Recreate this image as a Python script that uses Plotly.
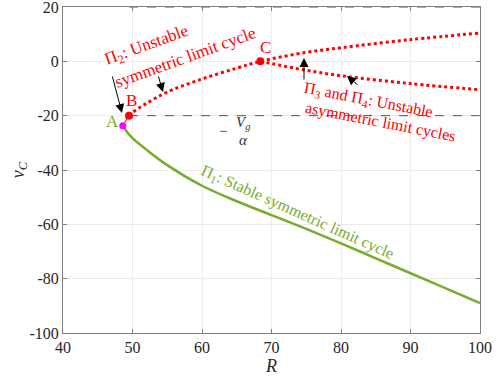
import plotly.graph_objects as go

# ---- data ----
R_stable = [48.6, 49, 50, 52, 55, 60, 65, 70, 75, 80, 85, 90, 95, 100]
v_stable = [-23.5, -25.3, -28.3, -32.5, -38.2, -45.8, -51.5, -56.6, -61.7, -67, -72.5, -78, -83.5, -89]

R_sym_unstable = [49.5, 50, 52, 55, 60, 65, 68.4, 75, 80, 90, 100]
v_sym_unstable = [-20, -18.8, -15.5, -11.3, -6.5, -2.5, 0, 3.3, 5.0, 8.0, 10.4]

R_asym = [68.4, 75, 80, 90, 100]
v_asym = [0, -3.3, -5.3, -8.2, -10.5]

R_ref = [49.5, 100]
v_ref_low = [-20, -20]
v_ref_high = [20, 20]

pt_A = (48.6, -23.7)
pt_B = (49.5, -20)
pt_C = (68.4, 0)

xticks = [40, 50, 60, 70, 80, 90, 100]
yticks = [-100, -80, -60, -40, -20, 0, 20]
ytick_labels = ["-100", "-80", "-60", "-40", "-20", "0", "20"]

GREEN = "#77ac30"
RED = "#ff0000"
FONT = "Liberation Serif"

fig = go.Figure()

# dashed reference lines
for vv in (v_ref_low, v_ref_high):
    fig.add_trace(go.Scatter(x=R_ref, y=vv, mode="lines",
                             line=dict(color="#555555", width=1, dash="dash"),
                             hoverinfo="skip", showlegend=False, cliponaxis=False))

# thin line A-B
fig.add_trace(go.Scatter(x=[pt_A[0], pt_B[0]], y=[pt_A[1], pt_B[1]], mode="lines",
                         line=dict(color=RED, width=1), showlegend=False))

# stable branch
fig.add_trace(go.Scatter(x=R_stable, y=v_stable, mode="lines",
                         line=dict(color=GREEN, width=2.5, shape="spline", smoothing=1.0),
                         showlegend=False))

# unstable symmetric
fig.add_trace(go.Scatter(x=R_sym_unstable, y=v_sym_unstable, mode="lines",
                         line=dict(color=RED, width=3, dash="dot", shape="spline"),
                         showlegend=False))
# unstable asymmetric
fig.add_trace(go.Scatter(x=R_asym, y=v_asym, mode="lines",
                         line=dict(color=RED, width=3, dash="dot", shape="spline"),
                         showlegend=False))

# points
fig.add_trace(go.Scatter(x=[pt_A[0]], y=[pt_A[1]], mode="markers",
                         marker=dict(color="#ff00ff", size=7), showlegend=False))
fig.add_trace(go.Scatter(x=[pt_B[0], pt_C[0]], y=[pt_B[1], pt_C[1]], mode="markers",
                         marker=dict(color=RED, size=8), showlegend=False))

# pixel helpers (plot area 63..480 x 7..333)
def px2data(px, py):
    return 40 + (px - 63) / (417 / 60), 20 - (py - 7) / (326 / 120)

def text_at(px, py, text, color, size, angle=0):
    x, y = px2data(px, py)
    fig.add_annotation(x=x, y=y, text=text, showarrow=False, textangle=angle,
                       font=dict(family=FONT, size=size, color=color),
                       xanchor="center", yanchor="middle")

def arrow(hx, hy, tx, ty):
    x, y = px2data(hx, hy)
    fig.add_annotation(x=x, y=y, ax=tx - hx, ay=ty - hy, text="", showarrow=True,
                       arrowhead=2, arrowsize=1.8, arrowwidth=1, arrowcolor="#000000")

text_at(112, 121, "A", GREEN, 17)
text_at(131, 100, "B", RED, 17)
text_at(265, 47, "C", RED, 17)

text_at(147, 46, "Π<sub>2</sub>: Unstable", RED, 17, -20)
text_at(185, 57, "symmetric limit cycle", RED, 17, -20)

text_at(368, 100, "Π<sub>3</sub> and Π<sub>4</sub>: Unstable", RED, 16, 11)
text_at(380, 122, "asymmetric limit cycles", RED, 16, 11)

text_at(297, 212, "Π<sub>1</sub>: Stable symmetric limit cycle", GREEN, 16, 24)

text_at(223, 131, "−", "#333333", 15)
text_at(243, 123, "<i>V<sub>g</sub></i>", "#333333", 15)
text_at(243, 140, "<i>α</i>", "#333333", 15)

arrow(122, 113, 112, 75)
arrow(163, 92, 158, 75)
arrow(304, 58, 304, 81)
arrow(347, 76, 359, 86)

axis_common = dict(showline=True, linecolor="#808080", linewidth=1, mirror="ticks",
                   ticks="inside", ticklen=4, tickcolor="#808080",
                   showgrid=True, gridcolor="#ebebeb", gridwidth=1, zeroline=False,
                   ticklabeloverflow="allow", automargin=False,
                   tickfont=dict(family=FONT, size=16, color="#262626"))

fig.update_xaxes(range=[40, 100], tickvals=xticks, **axis_common,
                 title=dict(text="<i>R</i>", font=dict(family=FONT, size=18, color="#262626"),
                            standoff=2))
fig.update_yaxes(range=[-100, 20], tickvals=yticks, ticktext=ytick_labels, **axis_common,
                 title=dict(text="<i>v<sub>C</sub></i>", font=dict(family=FONT, size=18, color="#262626"),
                            standoff=0))

fig.update_layout(width=501, height=380, paper_bgcolor="white", plot_bgcolor="white",
                  margin=dict(l=63, r=21, t=7, b=47, autoexpand=False), showlegend=False)

fig.write_html("out.html", post_script="document.body.style.margin='0';",
               config={"displayModeBar": False})
